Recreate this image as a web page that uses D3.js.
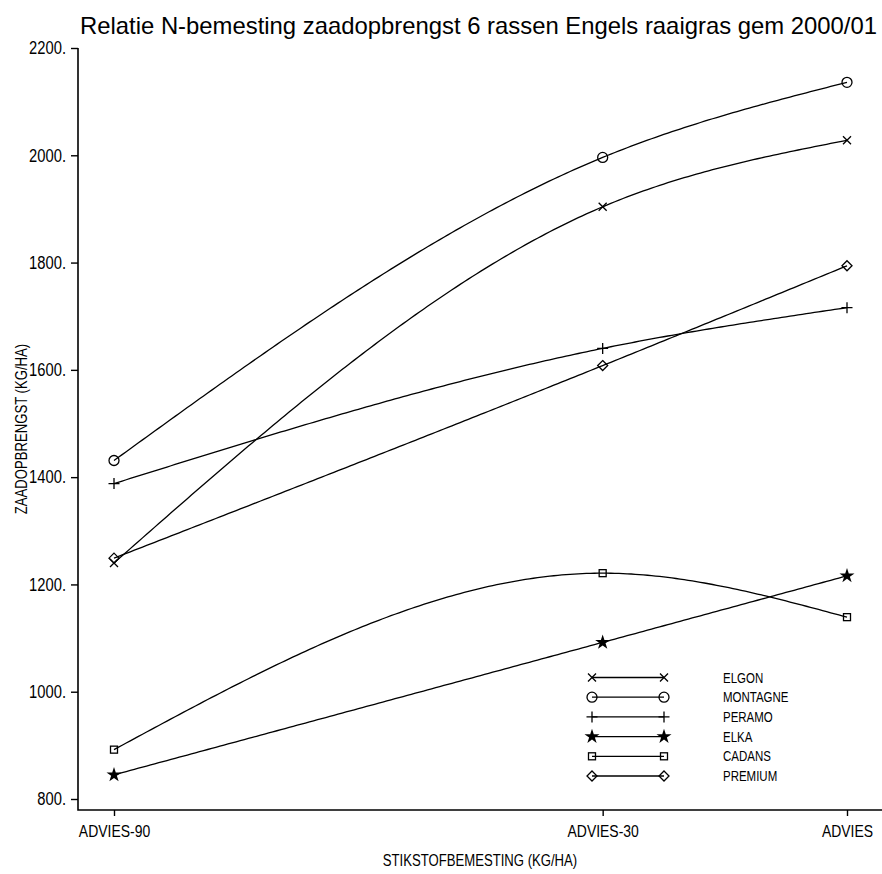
<!DOCTYPE html>
<html>
<head>
<meta charset="utf-8">
<script src="https://cdn.jsdelivr.net/npm/d3@7"></script>
<style>
  html, body { margin: 0; padding: 0; background: #fff; }
  svg { display: block; }
  text { font-family: "Liberation Sans", Arial, sans-serif; fill: #000; }
</style>
</head>
<body>
<svg id="chart" width="882" height="874"></svg>
<script>
// ---- data ----
const titleText = "Relatie N-bemesting zaadopbrengst 6 rassen Engels raaigras gem 2000/01";
const xAxisLabel = "STIKSTOFBEMESTING (KG/HA)";
const yAxisLabel = "ZAADOPBRENGST (KG/HA)";
const categories = ["ADVIES-90", "ADVIES-30", "ADVIES"];
const nLevels = [-90, -30, 0];
const yTicks = [800, 1000, 1200, 1400, 1600, 1800, 2000, 2200];
const seriesNames = ["ELGON", "MONTAGNE", "PERAMO", "ELKA", "CADANS", "PREMIUM"];
const symbols = ["x", "circle", "plus", "star", "square", "diamond"];
const elgon    = [1240, 1904, 2028];
const montagne = [1431, 1996, 2136];
const peramo   = [1388, 1640, 1716];
const elka     = [845, 1092, 1216];
const cadans   = [892, 1221, 1139];
const premium  = [1249, 1608, 1794];
const seriesValues = [elgon, montagne, peramo, elka, cadans, premium];

// ---- layout ----
const svg = d3.select("#chart");
const axisLeftX = 78, axisBottomY = 810, axisRightX = 882, axisTopY = 48;
const x = d3.scaleLinear().domain([-90, 0]).range([114, 847]);
const y = d3.scaleLinear().domain([800, 2200]).range([799, 48]);
const narrow = 0.82; // condense glyphs to mimic the narrow plotter font

// natural cubic spline y(x)
function naturalSpline(xs, ys) {
  const n = xs.length;
  const h = [], M = new Array(n).fill(0);
  for (let i = 0; i < n - 1; i++) h.push(xs[i + 1] - xs[i]);
  if (n > 2) {
    const a = [], b = [], c = [], r = [];
    for (let i = 1; i < n - 1; i++) {
      a.push(h[i - 1]); b.push(2 * (h[i - 1] + h[i])); c.push(h[i]);
      r.push(6 * ((ys[i + 1] - ys[i]) / h[i] - (ys[i] - ys[i - 1]) / h[i - 1]));
    }
    const m = b.length;
    for (let i = 1; i < m; i++) {
      const w = a[i] / b[i - 1];
      b[i] -= w * c[i - 1]; r[i] -= w * r[i - 1];
    }
    const sol = new Array(m);
    sol[m - 1] = r[m - 1] / b[m - 1];
    for (let i = m - 2; i >= 0; i--) sol[i] = (r[i] - c[i] * sol[i + 1]) / b[i];
    for (let i = 0; i < m; i++) M[i + 1] = sol[i];
  }
  return function (xv) {
    let i = 0;
    while (i < n - 2 && xv > xs[i + 1]) i++;
    const hi = h[i], A = (xs[i + 1] - xv) / hi, B = (xv - xs[i]) / hi;
    return A * ys[i] + B * ys[i + 1] +
      ((A * A * A - A) * M[i] + (B * B * B - B) * M[i + 1]) * hi * hi / 6;
  };
}

// ---- markers ----
function drawMarker(g, type, cx, cy) {
  const s = g.append("g").attr("transform", `translate(${cx},${cy})`);
  const sw = 1.3;
  if (type === "x") {
    s.append("path").attr("d", "M-4,-4L4,4M-4,4L4,-4").attr("stroke", "#000").attr("stroke-width", sw).attr("fill", "none");
  } else if (type === "circle") {
    s.append("circle").attr("r", 5).attr("stroke", "#000").attr("stroke-width", sw).attr("fill", "none");
  } else if (type === "plus") {
    s.append("path").attr("d", "M-5.5,0H5.5M0,-5.5V5.5").attr("stroke", "#000").attr("stroke-width", sw).attr("fill", "none");
  } else if (type === "star") {
    s.append("path").attr("d", d3.symbol(d3.symbolStar, 70)()).attr("fill", "#000");
  } else if (type === "square") {
    s.append("rect").attr("x", -3.5).attr("y", -3.5).attr("width", 7).attr("height", 7)
      .attr("stroke", "#000").attr("stroke-width", sw).attr("fill", "none");
  } else if (type === "diamond") {
    s.append("path").attr("d", "M0,-5L5,0L0,5L-5,0Z").attr("stroke", "#000").attr("stroke-width", sw).attr("fill", "none");
  }
}

// ---- title ----
svg.append("text")
  .attr("x", 80).attr("y", 34)
  .attr("font-size", 24)
  .attr("class", "fixedlen")
  .attr("textLength", 797).attr("lengthAdjust", "spacingAndGlyphs")
  .text(titleText);

// ---- axes ----
const yAxis = d3.axisLeft(y).tickValues(yTicks).tickFormat(d => d + ".").tickSize(7).tickPadding(5);
const gy = svg.append("g").attr("transform", `translate(${axisLeftX},0)`).call(yAxis);
gy.select(".domain").remove();
gy.selectAll(".tick line").attr("stroke", "#000").attr("stroke-width", 1.4);
gy.selectAll(".tick text").attr("font-size", 18).attr("font-family", null).attr("fill", "#000");

const xAxis = d3.axisBottom(x).tickValues(nLevels).tickFormat((d, i) => categories[i]).tickSize(6).tickPadding(9);
const gx = svg.append("g").attr("transform", `translate(0,${axisBottomY})`).call(xAxis);
gx.select(".domain").remove();
gx.selectAll(".tick line").attr("stroke", "#000").attr("stroke-width", 1.4);
gx.selectAll(".tick text").attr("font-size", 17).attr("font-family", null).attr("fill", "#000");

svg.append("path")
  .attr("d", `M${axisLeftX},${axisTopY}V${axisBottomY}H${axisRightX}`)
  .attr("fill", "none").attr("stroke", "#000").attr("stroke-width", 1.6);

// axis labels
svg.append("text")
  .attr("transform", `translate(27,${(axisTopY + axisBottomY) / 2}) rotate(-90)`)
  .attr("text-anchor", "middle").attr("font-size", 16)
  .text(yAxisLabel);
svg.append("text")
  .attr("x", (axisLeftX + axisRightX) / 2).attr("y", 866)
  .attr("text-anchor", "middle").attr("font-size", 16)
  .text(xAxisLabel);

// ---- lines ----
const line = d3.line().x(d => x(d[0])).y(d => y(d[1]));
const gLines = svg.append("g");
seriesValues.forEach((vals, si) => {
  const f = naturalSpline(nLevels, vals);
  const pts = d3.range(nLevels[0], nLevels[nLevels.length - 1] + 0.0001, 0.5).map(v => [v, f(v)]);
  gLines.append("path").attr("d", line(pts))
    .attr("fill", "none").attr("stroke", "#000").attr("stroke-width", 1.3);
  vals.forEach((v, i) => drawMarker(gLines, symbols[si], x(nLevels[i]), y(v)));
});

// ---- legend ----
const legendTop = 677.5, legendStep = 19.7, legendX1 = 592, legendX2 = 664, legendTextX = 723;
const gLeg = svg.append("g");
seriesNames.forEach((name, i) => {
  const ly = legendTop + i * legendStep;
  gLeg.append("line").attr("x1", legendX1).attr("x2", legendX2).attr("y1", ly).attr("y2", ly)
    .attr("stroke", "#000").attr("stroke-width", 1.3);
  drawMarker(gLeg, symbols[i], legendX1, ly);
  drawMarker(gLeg, symbols[i], legendX2, ly);
  gLeg.append("text").attr("x", legendTextX).attr("y", ly).attr("dy", "0.36em")
    .attr("font-size", 14).text(name);
});

// condense all texts (narrow plotter font look)
svg.selectAll("text").filter(function () { return !this.classList.contains("fixedlen"); })
  .each(function () {
    const w = this.getComputedTextLength();
    d3.select(this).attr("textLength", (w * narrow).toFixed(1)).attr("lengthAdjust", "spacingAndGlyphs");
  });
</script>
</body>
</html>
